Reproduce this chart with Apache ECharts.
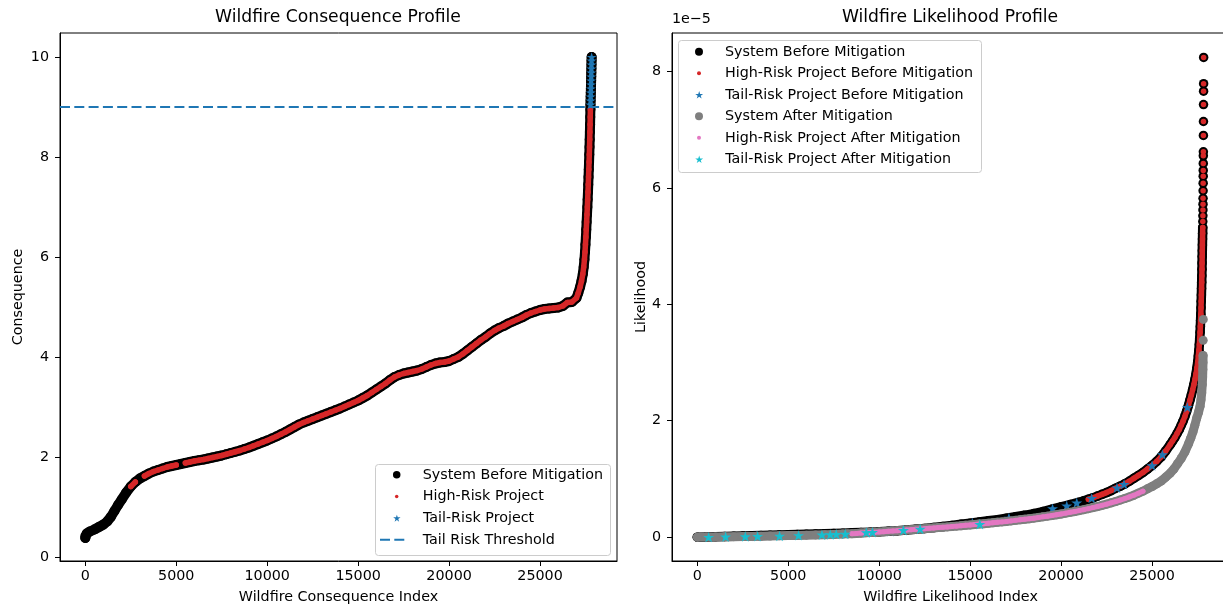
<!DOCTYPE html>
<html>
<head>
<meta charset="utf-8">
<script src="https://cdn.jsdelivr.net/npm/echarts@6/dist/echarts.min.js"></script>
<style>
html,body{margin:0;padding:0;background:#fff;}
#chart{width:1223px;height:606px;}
</style>
</head>
<body>
<div id="chart"></div>
<script>
// ---------- data ----------
// sorted consequence per index
var CONSEQUENCE = [
	[0,0.38],[0,0.42],[80,0.47],[250,0.51],[500,0.55],[750,0.60],[1000,0.65],[1200,0.71],[1400,0.80],[1600,0.92],
	[1800,1.04],[2000,1.15],[2250,1.29],[2500,1.41],[2750,1.50],[3000,1.57],[3250,1.62],[3500,1.67],[3750,1.71],[4000,1.74],
	[4250,1.77],[4500,1.80],[4750,1.82],[5000,1.84],[5250,1.86],[5500,1.88],[5750,1.90],[6000,1.92],[6250,1.935],[6500,1.95],
	[6750,1.97],[7000,1.99],[7250,2.01],[7500,2.03],[7750,2.055],[8000,2.08],[8250,2.105],[8500,2.13],[8750,2.16],[9000,2.19],
	[9250,2.225],[9500,2.26],[9750,2.295],[10000,2.33],[10250,2.37],[10500,2.41],[10750,2.455],[11000,2.50],[11250,2.55],[11500,2.60],
	[11750,2.65],[12000,2.69],[12250,2.725],[12500,2.76],[12750,2.795],[13000,2.83],[13250,2.865],[13500,2.90],[13750,2.935],[14000,2.97],
	[14250,3.01],[14500,3.05],[14750,3.09],[15000,3.13],[15250,3.18],[15500,3.23],[15750,3.29],[16000,3.35],[16250,3.41],[16500,3.47],
	[16750,3.54],[17000,3.60],[17250,3.64],[17500,3.67],[17750,3.69],[18000,3.71],[18250,3.73],[18500,3.76],[18750,3.80],[19000,3.84],
	[19250,3.87],[19500,3.89],[19750,3.90],[20000,3.92],[20250,3.96],[20500,4.00],[20750,4.06],[21000,4.13],[21250,4.20],[21500,4.27],
	[21750,4.34],[22000,4.40],[22250,4.47],[22500,4.53],[22750,4.58],[23000,4.62],[23250,4.67],[23500,4.71],[23750,4.75],[24000,4.79],
	[24250,4.84],[24500,4.88],[24750,4.91],[25000,4.94],[25250,4.96],[25500,4.97],[25750,4.98],[26000,4.99],[26250,5.02],[26500,5.09],
	[26750,5.10],[27000,5.18],[27100,5.28],[27200,5.40],[27280,5.52],[27350,5.66],[27400,5.80],[27440,5.95],[27470,6.10],[27495,6.25],
	[27520,6.40],[27540,6.55],[27560,6.70],[27580,6.85],[27600,7.00],[27617,7.15],[27634,7.30],[27650,7.45],[27665,7.60],[27680,7.75],
	[27694,7.90],[27707,8.05],[27719,8.20],[27730,8.35],[27740,8.50],[27750,8.65],[27759,8.80],[27767,8.95],[27772,9.05],[27778,9.13],
	[27784,9.21],[27790,9.29],[27796,9.37],[27802,9.45],[27808,9.53],[27813,9.61],[27818,9.69],[27822,9.77],[27826,9.85],[27831,9.93],
	[27836,10.0]
];
var HIGH_RISK_RANGES = [[2300,2900],[3100,5100],[5400,27770]];
var TAIL_THRESHOLD = 9;

// likelihood per index, in units of 1e-5
var LIKELIHOOD_BEFORE = [
	[0,0.000],[500,0.004],[1000,0.008],[1500,0.012],[2000,0.016],[2500,0.020],[3000,0.024],[3500,0.028],[4000,0.032],[4500,0.036],
	[5000,0.040],[5500,0.044],[6000,0.048],[6500,0.053],[7000,0.058],[7500,0.063],[8000,0.068],[8500,0.074],[9000,0.080],[9500,0.086],
	[10000,0.092],[10500,0.100],[11000,0.110],[11500,0.122],[12000,0.135],[12500,0.150],[13000,0.165],[13500,0.182],[14000,0.200],[14500,0.220],
	[15000,0.240],[15500,0.260],[16000,0.280],[16500,0.300],[17000,0.325],[17500,0.350],[18000,0.375],[18500,0.405],[19000,0.440],[19500,0.480],
	[20000,0.520],[20500,0.560],[21000,0.600],[21250,0.625],[21500,0.650],[21750,0.675],[22000,0.705],[22250,0.735],[22500,0.765],[22750,0.800],
	[23000,0.840],[23250,0.875],[23500,0.915],[23750,0.960],[24000,1.010],[24250,1.060],[24500,1.110],[24750,1.170],[25000,1.230],[25250,1.300],
	[25500,1.380],[25750,1.480],[26000,1.590],[26125,1.650],[26250,1.710],[26375,1.780],[26500,1.850],[26600,1.920],[26700,1.990],[26800,2.070],
	[26900,2.160],[27000,2.260],[27080,2.350],[27160,2.440],[27230,2.530],[27300,2.620],[27360,2.710],[27420,2.810],[27470,2.910],[27510,3.010],
	[27545,3.110],[27575,3.210],[27600,3.310],[27620,3.410],[27640,3.520],[27655,3.620],[27668,3.720],[27680,3.830],[27692,3.940],[27702,4.050],
	[27712,4.160],[27721,4.270],[27729,4.380],[27737,4.490],[27744,4.600],[27750,4.710],[27756,4.820],[27762,4.920],[27768,5.020],[27774,5.120],
	[27780,5.220],[27786,5.320],[27790,5.420],[27794,5.520],[27798,5.620],[27801,5.720],[27804,5.820],[27807,5.950],[27810,6.080],[27812,6.200],
	[27814,6.300],[27816,6.420],[27818,6.550],[27821,6.620],[27823,6.900],[27826,7.140],[27829,7.430],[27832,7.660],[27834,7.790],[27836,8.240]
];
var LIKELIHOOD_AFTER = [
	[0,0.000],[500,0.002],[1000,0.004],[1500,0.006],[2000,0.008],[2500,0.010],[3000,0.013],[3500,0.016],[4000,0.019],[4500,0.022],
	[5000,0.026],[5500,0.030],[6000,0.034],[6500,0.038],[7000,0.042],[7500,0.047],[8000,0.053],[8250,0.056],[8500,0.060],[8750,0.064],
	[9000,0.069],[9250,0.074],[9500,0.079],[9750,0.084],[10000,0.089],[10250,0.094],[10500,0.099],[10750,0.104],[11000,0.110],[11250,0.116],
	[11500,0.122],[11750,0.128],[12000,0.134],[12250,0.140],[12500,0.146],[12750,0.152],[13000,0.158],[13250,0.164],[13500,0.170],[13750,0.176],
	[14000,0.182],[14250,0.189],[14500,0.196],[14750,0.203],[15000,0.210],[15250,0.217],[15500,0.224],[15750,0.231],[16000,0.238],[16250,0.246],
	[16500,0.254],[16750,0.262],[17000,0.270],[17250,0.279],[17500,0.288],[17750,0.297],[18000,0.306],[18250,0.316],[18500,0.326],[18750,0.337],
	[19000,0.348],[19250,0.360],[19500,0.372],[19750,0.385],[20000,0.398],[20250,0.412],[20500,0.426],[20750,0.441],[21000,0.456],[21250,0.472],
	[21500,0.489],[21750,0.507],[22000,0.526],[22250,0.546],[22500,0.567],[22750,0.589],[23000,0.612],[23250,0.637],[23500,0.663],[23750,0.691],
	[24000,0.720],[24250,0.755],[24500,0.790],[24750,0.830],[25000,0.870],[25250,0.915],[25500,0.965],[25750,1.030],[26000,1.100],[26200,1.170],
	[26400,1.260],[26600,1.350],[26800,1.460],[27000,1.600],[27125,1.700],[27250,1.810],[27350,1.920],[27450,2.040],[27550,2.140],[27640,2.250],
	[27690,2.360],[27730,2.480],[27760,2.620],[27780,2.750],[27792,2.880],[27800,3.000],[27805,3.120],[27812,3.380],[27818,3.740]
];
var HIGH_RISK_BEFORE_FROM = 21400;
var HIGH_RISK_AFTER_RANGE = [8400, 24600];
// beyond these indexes the points stand apart instead of forming a band
var BEFORE_BAND_TO = 27786;
var AFTER_BAND_TO = 27805;
var TAIL_BEFORE = [
	[3240,0.02],[10610,0.10],[15120,0.245],[17130,0.33],[19530,0.49],[20310,0.54],[20860,0.59],
	[21680,0.67],[23070,0.85],[23460,0.91],[25000,1.23],[25570,1.42],[26940,2.23]
];
var TAIL_AFTER = [
	[622,0.0],[1555,0.005],[2637,0.01],[3313,0.015],[4522,0.02],[5566,0.03],[6852,0.04],[7308,0.045],
	[7637,0.05],[8132,0.055],[9290,0.08],[9630,0.085],[11330,0.12],[12250,0.14],[15530,0.22]
];

var X_TICKS = [0,5000,10000,15000,20000,25000];
var Y_TICKS_LEFT = [0,2,4,6,8,10];
var Y_TICKS_RIGHT = [0,2,4,6,8];

// ---------- helpers ----------
function inRanges(x, ranges){
	for(var i=0;i<ranges.length;i++){
		if(x>=ranges[i][0] && x<=ranges[i][1]) return true;
	}
	return false;
}
function upTo(data, to){
	return data.filter(function(p){ return p[0] <= to; });
}
var highRiskLeft = CONSEQUENCE.filter(function(p){ return inRanges(p[0], HIGH_RISK_RANGES); });
var tailLeft = CONSEQUENCE.filter(function(p){ return p[1] >= TAIL_THRESHOLD; });
var highRiskBefore = LIKELIHOOD_BEFORE.filter(function(p){ return p[0] >= HIGH_RISK_BEFORE_FROM; });
var highRiskAfter = LIKELIHOOD_AFTER.filter(function(p){ return inRanges(p[0], [HIGH_RISK_AFTER_RANGE]); });

var X_MIN = -1392, X_MAX = 29230;
var FONT = 'DejaVu Sans';
var FS = 14.3;
var STAR = 'path://M0,-10L2.245,-3.09L9.511,-3.09L3.633,1.18L5.878,8.09L0,3.82L-5.878,8.09L-3.633,1.18L-9.511,-3.09L-2.245,-3.09Z';
var DASH_ICON = 'path://M0,0H10V2H0Z M14.3,0H24.3V2H14.3Z';

function xAxis(idx, name){
	return {
		type:'value', gridIndex:idx, min:X_MIN, max:X_MAX,
		name:name, nameLocation:'middle', nameGap:29,
		nameTextStyle:{fontFamily:FONT, fontSize:FS, color:'#000'},
		axisLine:{show:true, onZero:false, lineStyle:{color:'#000', width:1}},
		axisTick:{show:true, length:5, customValues:X_TICKS, lineStyle:{color:'#000'}},
		axisLabel:{customValues:X_TICKS, margin:8.5, fontFamily:FONT, fontSize:FS, color:'#000',
			formatter:function(v){ return String(v); }},
		splitLine:{show:false}
	};
}
function yAxis(idx, name, min, max, ticks, gap){
	return {
		type:'value', gridIndex:idx, min:min, max:max,
		name:name, nameLocation:'middle', nameGap:gap,
		nameTextStyle:{fontFamily:FONT, fontSize:FS, color:'#000'},
		axisLine:{show:true, onZero:false, lineStyle:{color:'#000', width:1}},
		axisTick:{show:true, length:5, customValues:ticks, lineStyle:{color:'#000'}},
		axisLabel:{customValues:ticks, margin:11, fontFamily:FONT, fontSize:FS, color:'#000',
			formatter:function(v){ return String(v); }},
		splitLine:{show:false}
	};
}
function scatter(name, data, xi, color, size, symbol){
	return {
		type:'scatter', name:name, xAxisIndex:xi, yAxisIndex:xi, data:data,
		symbol:symbol || 'circle', symbolSize:size, symbolKeepAspect:true,
		itemStyle:{color:color, opacity:1}, silent:true
	};
}
// dense stretch of markers drawn as one stroke so it reads as a solid band
function band(data, xi, color, width){
	return {
		type:'line', name:'_band', xAxisIndex:xi, yAxisIndex:xi, data:data,
		symbol:'none', silent:true, smooth:false,
		lineStyle:{color:color, width:width, cap:'round', join:'round', opacity:1}
	};
}
function legendItem(name, icon, left, row, w, h, textPad){
	var boxH = Math.max(h, FS);
	return {
		left:left, top:row - boxH/2, orient:'vertical', padding:0, itemGap:0,
		itemWidth:w, itemHeight:h, selectedMode:false, z:60,
		data:[{name:name, icon:icon}],
		textStyle:{fontFamily:FONT, fontSize:FS, color:'#000', padding:[0,0,0,textPad||0]}
	};
}
function circleLegend(name, icon, cx, row, size){
	return legendItem(name, icon, cx - size/2, row, 42, size);
}

var series = [];
series.push(band(CONSEQUENCE, 0, '#000000', 10));
series.push(scatter('System Before Mitigation', CONSEQUENCE, 0, '#000000', 10));
HIGH_RISK_RANGES.forEach(function(r){
	series.push(band(highRiskLeft.filter(function(p){ return p[0]>=r[0] && p[0]<=r[1]; }), 0, '#d62728', 5.5));
});
series.push(scatter('High-Risk Project', highRiskLeft, 0, '#d62728', 5.5));
series.push(scatter('Tail-Risk Project', tailLeft, 0, '#1f77b4', 10, STAR));
series.push({
	type:'line', name:'Tail Risk Threshold', xAxisIndex:0, yAxisIndex:0,
	data:[[X_MIN, TAIL_THRESHOLD],[X_MAX, TAIL_THRESHOLD]],
	symbol:'none', silent:true, color:'#1f77b4',
	lineStyle:{color:'#1f77b4', width:2, type:[10,4.3]}
});
series.push(band(upTo(LIKELIHOOD_BEFORE, BEFORE_BAND_TO), 1, '#000000', 9.5));
series.push(scatter('System Before Mitigation ', LIKELIHOOD_BEFORE, 1, '#000000', 9.5));
series.push(band(upTo(highRiskBefore, BEFORE_BAND_TO), 1, '#d62728', 5.5));
series.push(scatter('High-Risk Project Before Mitigation', highRiskBefore, 1, '#d62728', 5.5));
series.push(scatter('Tail-Risk Project Before Mitigation', TAIL_BEFORE, 1, '#1f77b4', 11, STAR));
series.push(band(upTo(LIKELIHOOD_AFTER, AFTER_BAND_TO), 1, '#7f7f7f', 9));
series.push(scatter('System After Mitigation', LIKELIHOOD_AFTER, 1, '#7f7f7f', 9));
series.push(band(highRiskAfter, 1, '#e377c2', 5));
series.push(scatter('High-Risk Project After Mitigation', highRiskAfter, 1, '#e377c2', 5));
series.push(scatter('Tail-Risk Project After Mitigation', TAIL_AFTER, 1, '#17becf', 11, STAR));
// stack strictly in push order, like the plotting order of the original
series.forEach(function(s, i){ s.z = 2 + i; });

var myChart = echarts.init(document.getElementById('chart'));
var option = {
	animation:false,
	backgroundColor:'#fff',
	title:[
		{text:'Wildfire Consequence Profile', left:338, top:9, textAlign:'center', padding:0,
			textStyle:{fontFamily:FONT, fontSize:17.2, fontWeight:'normal', color:'#000'}},
		{text:'Wildfire Likelihood Profile', left:950, top:9, textAlign:'center', padding:0,
			textStyle:{fontFamily:FONT, fontSize:17.2, fontWeight:'normal', color:'#000'}},
		{text:'1e\u22125', left:672, top:12, padding:0,
			textStyle:{fontFamily:FONT, fontSize:FS, fontWeight:'normal', color:'#000'}}
	],
	grid:[
		{left:60, top:33, width:557, height:528, outerBoundsMode:'none', containLabel:false,
			show:true, borderColor:'#000', borderWidth:1, backgroundColor:'transparent'},
		{left:672, top:33, width:557, height:528, outerBoundsMode:'none', containLabel:false,
			show:true, borderColor:'#000', borderWidth:1, backgroundColor:'transparent'}
	],
	xAxis:[xAxis(0,'Wildfire Consequence Index'), xAxis(1,'Wildfire Likelihood Index')],
	yAxis:[
		yAxis(0,'Consequence',-0.08,10.48,Y_TICKS_LEFT,35),
		yAxis(1,'Likelihood',-0.41,8.66,Y_TICKS_RIGHT,24)
	],
	graphic:[
		{type:'rect', z:50, shape:{x:375.5, y:464.5, width:235, height:91, r:3},
			style:{fill:'rgba(255,255,255,0.8)', stroke:'#cccccc', lineWidth:1}},
		{type:'rect', z:50, shape:{x:678.5, y:40.5, width:303, height:132, r:3},
			style:{fill:'rgba(255,255,255,0.8)', stroke:'#cccccc', lineWidth:1}}
	],
	legend:[
		circleLegend('System Before Mitigation','circle',396.7,475,7.5),
		circleLegend('High-Risk Project','circle',396.7,496.7,3.5),
		circleLegend('Tail-Risk Project',STAR,396.7,518.3,7),
		legendItem('Tail Risk Threshold',DASH_ICON,380,540,27,2,12),
		circleLegend('System Before Mitigation ','circle',699,52,8),
		circleLegend('High-Risk Project Before Mitigation','circle',699,73.5,4),
		circleLegend('Tail-Risk Project Before Mitigation',STAR,699,95,7.5),
		circleLegend('System After Mitigation','circle',699,116.5,8),
		circleLegend('High-Risk Project After Mitigation','circle',699,138,4),
		circleLegend('Tail-Risk Project After Mitigation',STAR,699,159.5,7.5)
	],
	series:series
};
myChart.setOption(option);
</script>
</body>
</html>
